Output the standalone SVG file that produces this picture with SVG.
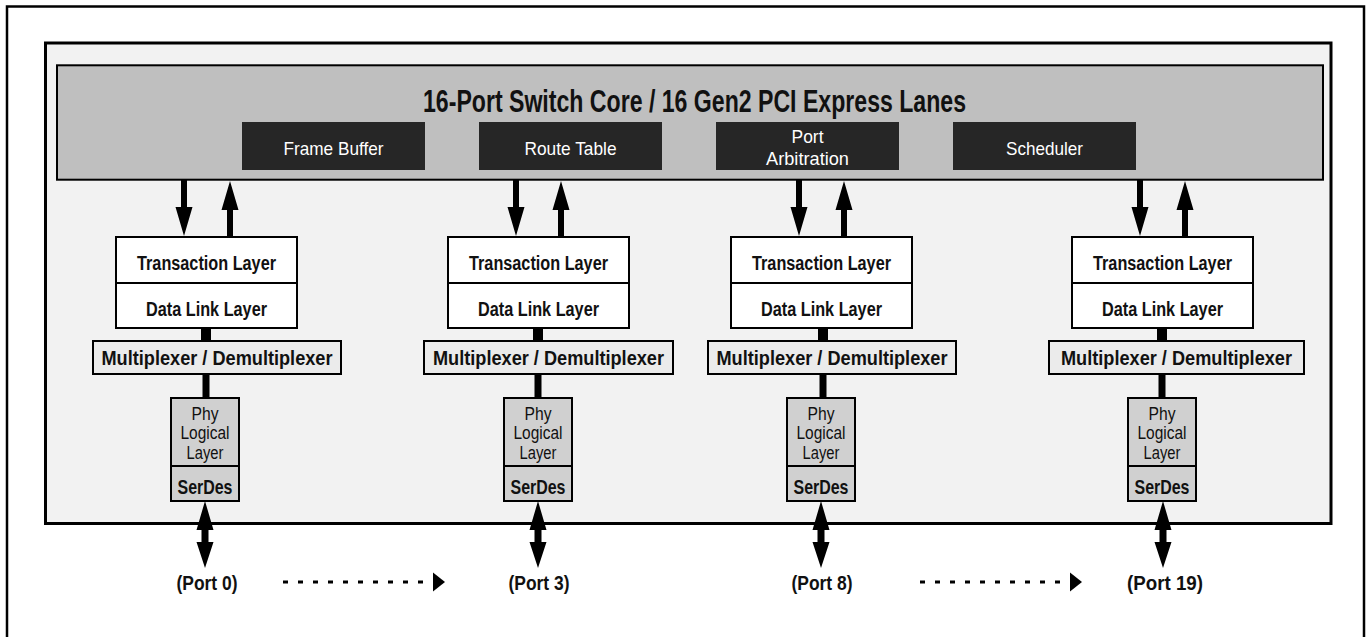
<svg xmlns="http://www.w3.org/2000/svg" width="1371" height="637" viewBox="0 0 1371 637">
<style>
text{font-family:"Liberation Sans Narrow","Arial Narrow","Liberation Sans",sans-serif;text-anchor:middle;fill:#111}
.title{font-size:31px;font-weight:bold}
.dk{fill:#262626}
.dkt{fill:#fff;font-size:19px}
.tl{fill:#fff;stroke:#000;stroke-width:2}
.tlt{font-size:19.5px;font-weight:bold}
.mux{fill:#ebebeb;stroke:#000;stroke-width:2}
.muxt{font-size:21px;font-weight:bold}
.phy{fill:#d0d0d0;stroke:#000;stroke-width:2}
.phyt{font-size:17.5px}
.sdt{font-size:21px;font-weight:bold}
.port{font-size:19.5px;font-weight:bold}
.blk{fill:#000}
.dot{stroke:#000;stroke-width:3;stroke-dasharray:5 10;fill:none}
</style>
<defs>
<path id="down" d="M-3,0 H3 V27 H8.5 L0,56 L-8.5,27 H-3 Z"/>
<path id="up" d="M0,0 L8.5,29 H3 V56 H-3 V29 H-8.5 Z"/>
<path id="bi" d="M0,0 L8.5,29 H3.5 V41 H8.5 L0,67 L-8.5,41 H-3.5 V29 H-8.5 Z"/>
</defs>
<rect x="7" y="6.5" width="1357" height="640" fill="#fff" stroke="#000" stroke-width="2.5"/>
<rect x="45.5" y="43" width="1285.5" height="480.5" fill="#f2f2f2" stroke="#000" stroke-width="3"/>
<g id="core">
<rect x="57" y="65.3" width="1266" height="114.4" fill="#bfbfbf" stroke="#000" stroke-width="2"/>
<text class="title" x="694.5" y="112" textLength="543" lengthAdjust="spacingAndGlyphs">16-Port Switch Core  /  16 Gen2 PCI Express Lanes</text>
</g>
<g id="frame-buffer"><rect class="dk" x="242" y="122" width="183" height="48"/><text class="dkt" x="333.5" y="155" textLength="100" lengthAdjust="spacingAndGlyphs">Frame Buffer</text></g>
<g id="route-table"><rect class="dk" x="479" y="122" width="183" height="48"/><text class="dkt" x="570.5" y="155" textLength="92" lengthAdjust="spacingAndGlyphs">Route Table</text></g>
<g id="port-arbitration"><rect class="dk" x="716" y="122" width="183" height="48"/><text class="dkt" x="807.5" y="143" textLength="32" lengthAdjust="spacingAndGlyphs">Port</text><text class="dkt" x="807.5" y="165" textLength="83" lengthAdjust="spacingAndGlyphs">Arbitration</text></g>
<g id="scheduler"><rect class="dk" x="953" y="122" width="183" height="48"/><text class="dkt" x="1044.5" y="155" textLength="77" lengthAdjust="spacingAndGlyphs">Scheduler</text></g>

<g id="col1">
<rect class="tl" x="116" y="237" width="181" height="91"/><line x1="116" y1="283" x2="297" y2="283" stroke="#000" stroke-width="2"/>
<text class="tlt" x="206.5" y="270" textLength="139" lengthAdjust="spacingAndGlyphs">Transaction Layer</text><text class="tlt" x="206.5" y="316" textLength="121" lengthAdjust="spacingAndGlyphs">Data Link Layer</text>
<rect class="mux" x="93" y="341" width="248" height="33"/><text class="muxt" x="217" y="365" textLength="231" lengthAdjust="spacingAndGlyphs">Multiplexer / Demultiplexer</text>
<rect class="phy" x="171" y="398" width="68" height="103"/><line x1="171" y1="466" x2="239" y2="466" stroke="#000" stroke-width="2"/>
<text class="phyt" x="205" y="420" textLength="27" lengthAdjust="spacingAndGlyphs">Phy</text><text class="phyt" x="205" y="439" textLength="49" lengthAdjust="spacingAndGlyphs">Logical</text><text class="phyt" x="205" y="459" textLength="37" lengthAdjust="spacingAndGlyphs">Layer</text><text class="sdt" x="205" y="494" textLength="55" lengthAdjust="spacingAndGlyphs">SerDes</text>
<text class="port" x="207" y="590" textLength="61" lengthAdjust="spacingAndGlyphs">(Port 0)</text>
</g>
<g id="col2">
<rect class="tl" x="448" y="237" width="181" height="91"/><line x1="448" y1="283" x2="629" y2="283" stroke="#000" stroke-width="2"/>
<text class="tlt" x="538.5" y="270" textLength="139" lengthAdjust="spacingAndGlyphs">Transaction Layer</text><text class="tlt" x="538.5" y="316" textLength="121" lengthAdjust="spacingAndGlyphs">Data Link Layer</text>
<rect class="mux" x="424" y="341" width="249" height="33"/><text class="muxt" x="548.5" y="365" textLength="231" lengthAdjust="spacingAndGlyphs">Multiplexer / Demultiplexer</text>
<rect class="phy" x="504" y="398" width="68" height="103"/><line x1="504" y1="466" x2="572" y2="466" stroke="#000" stroke-width="2"/>
<text class="phyt" x="538" y="420" textLength="27" lengthAdjust="spacingAndGlyphs">Phy</text><text class="phyt" x="538" y="439" textLength="49" lengthAdjust="spacingAndGlyphs">Logical</text><text class="phyt" x="538" y="459" textLength="37" lengthAdjust="spacingAndGlyphs">Layer</text><text class="sdt" x="538" y="494" textLength="55" lengthAdjust="spacingAndGlyphs">SerDes</text>
<text class="port" x="539" y="590" textLength="61" lengthAdjust="spacingAndGlyphs">(Port 3)</text>
</g>
<g id="col3">
<rect class="tl" x="731" y="237" width="181" height="91"/><line x1="731" y1="283" x2="912" y2="283" stroke="#000" stroke-width="2"/>
<text class="tlt" x="821.5" y="270" textLength="139" lengthAdjust="spacingAndGlyphs">Transaction Layer</text><text class="tlt" x="821.5" y="316" textLength="121" lengthAdjust="spacingAndGlyphs">Data Link Layer</text>
<rect class="mux" x="708" y="341" width="248" height="33"/><text class="muxt" x="832" y="365" textLength="231" lengthAdjust="spacingAndGlyphs">Multiplexer / Demultiplexer</text>
<rect class="phy" x="787" y="398" width="68" height="103"/><line x1="787" y1="466" x2="855" y2="466" stroke="#000" stroke-width="2"/>
<text class="phyt" x="821" y="420" textLength="27" lengthAdjust="spacingAndGlyphs">Phy</text><text class="phyt" x="821" y="439" textLength="49" lengthAdjust="spacingAndGlyphs">Logical</text><text class="phyt" x="821" y="459" textLength="37" lengthAdjust="spacingAndGlyphs">Layer</text><text class="sdt" x="821" y="494" textLength="55" lengthAdjust="spacingAndGlyphs">SerDes</text>
<text class="port" x="822" y="590" textLength="61" lengthAdjust="spacingAndGlyphs">(Port 8)</text>
</g>
<g id="col4">
<rect class="tl" x="1072" y="237" width="181" height="91"/><line x1="1072" y1="283" x2="1253" y2="283" stroke="#000" stroke-width="2"/>
<text class="tlt" x="1162.5" y="270" textLength="139" lengthAdjust="spacingAndGlyphs">Transaction Layer</text><text class="tlt" x="1162.5" y="316" textLength="121" lengthAdjust="spacingAndGlyphs">Data Link Layer</text>
<rect class="mux" x="1049" y="341" width="255" height="33"/><text class="muxt" x="1176.5" y="365" textLength="231" lengthAdjust="spacingAndGlyphs">Multiplexer / Demultiplexer</text>
<rect class="phy" x="1128" y="398" width="68" height="103"/><line x1="1128" y1="466" x2="1196" y2="466" stroke="#000" stroke-width="2"/>
<text class="phyt" x="1162" y="420" textLength="27" lengthAdjust="spacingAndGlyphs">Phy</text><text class="phyt" x="1162" y="439" textLength="49" lengthAdjust="spacingAndGlyphs">Logical</text><text class="phyt" x="1162" y="459" textLength="37" lengthAdjust="spacingAndGlyphs">Layer</text><text class="sdt" x="1162" y="494" textLength="55" lengthAdjust="spacingAndGlyphs">SerDes</text>
<text class="port" x="1165" y="590" textLength="76" lengthAdjust="spacingAndGlyphs">(Port 19)</text>
</g>

<g id="connectors">
<use href="#down" x="184" y="180"/><use href="#up" x="230" y="181"/>
<use href="#down" x="516" y="180"/><use href="#up" x="561" y="181"/>
<use href="#down" x="799" y="180"/><use href="#up" x="844" y="181"/>
<use href="#down" x="1140" y="180"/><use href="#up" x="1185" y="181"/>
<rect class="blk" x="201" y="328" width="10" height="13"/><rect class="blk" x="202.5" y="374" width="7" height="24"/>
<rect class="blk" x="533" y="328" width="10" height="13"/><rect class="blk" x="534.5" y="374" width="7" height="24"/>
<rect class="blk" x="818" y="328" width="10" height="13"/><rect class="blk" x="819.5" y="374" width="7" height="24"/>
<rect class="blk" x="1157" y="328" width="10" height="13"/><rect class="blk" x="1158.5" y="374" width="7" height="24"/>
<use href="#bi" x="205" y="501"/>
<use href="#bi" x="538" y="501"/>
<use href="#bi" x="821" y="501"/>
<use href="#bi" x="1163" y="501"/>
<line class="dot" x1="283" y1="582" x2="433" y2="582"/><path class="blk" d="M433,572.5 L445,582 L433,591.5 Z"/>
<line class="dot" x1="920" y1="582" x2="1070" y2="582"/><path class="blk" d="M1070,572.5 L1082,582 L1070,591.5 Z"/>
</g>
</svg>
